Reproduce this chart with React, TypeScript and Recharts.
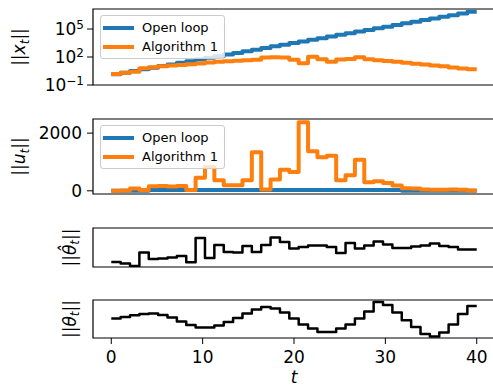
import React from 'react';
import { LineChart, Line, XAxis, YAxis, ReferenceArea, Legend, Label } from 'recharts';

// time stamps (40 samples over 0..40)
const T = [0, 1.026, 2.051, 3.077, 4.103, 5.128, 6.154, 7.179, 8.205, 9.231, 10.256, 11.282, 12.308, 13.333, 14.359, 15.385, 16.41, 17.436, 18.462, 19.487, 20.513, 21.538, 22.564, 23.59, 24.615, 25.641, 26.667, 27.692, 28.718, 29.744, 30.769, 31.795, 32.821, 33.846, 34.872, 35.897, 36.923, 37.949, 38.974, 40];

// ||x_t||
const X_OPEN = [1.41, 1.41, 2.12, 3.18, 4.77, 7.15, 10.7, 16.1, 24.1, 36.2, 54.3, 81.4, 122, 183, 274, 411, 617, 925, 1387, 2080, 3120, 4680, 7020, 10530, 15790, 23680, 35520, 53270, 79900, 119800, 179700, 269500, 404300, 606300, 909400, 1364000, 2046000, 3068000, 4602000, 6903000];
const X_ALG = [1.51, 1.51, 2.0, 2.63, 6.31, 7.94, 10, 12.0, 14.1, 16.6, 20.0, 25.1, 31.6, 35.5, 39.8, 44.7, 50.1, 89.1, 95.5, 89.1, 50.1, 21.4, 107, 56.2, 31.6, 52.5, 60.3, 93.3, 56.2, 45.7, 37.2, 30.2, 24.0, 19.5, 15.8, 12.6, 10.0, 7.4, 6.0, 4.8];

// ||u_t||
const U_OPEN = [0, 0, 0, 0, 0, 30, 30, 30, 30, 30, 30, 30, 30, 30, 30, 30, 30, 30, 30, 30, 30, 30, 30, 30, 30, 30, 30, 30, 30, 30, 30, 30, 0, 0, 0, 0, 0, 0, 0, 0];
const U_ALG = [5, 5, 10, 80, 25, 160, 170, 150, 170, 25, 450, 830, 370, 195, 195, 370, 1335, 45, 390, 735, 655, 2380, 1370, 1160, 1220, 370, 540, 1080, 300, 335, 275, 185, 90, 80, 45, 35, 35, 45, 35, 12];

// ||theta_hat_t|| and ||theta_t|| (axes carry no scale; arbitrary units)
const THETA_HAT = [5.0, 5.0, 3.4, 1.0, 14.4, 8.0, 8.4, 9.4, 11, 4.7, 29, 9, 22, 15, 14.5, 21, 15, 22, 29.5, 25, 18.5, 20, 21.5, 21.5, 20, 14, 24, 18.5, 21.5, 25.5, 22.5, 19, 19, 20.5, 21.5, 23.5, 21, 20, 17.5, 17.5];
const THETA = [19.4, 19.4, 21, 22.7, 24, 24.4, 23, 20.5, 16.5, 13, 10.5, 10.5, 12.5, 16, 20, 24.4, 28.5, 31, 29.5, 25.5, 19.5, 13.4, 9.4, 6, 6, 9.4, 13.4, 19.4, 26.5, 36, 33, 25.4, 17.7, 11, 4, 1.5, 5.5, 13.5, 24, 32];

const X_TICKS = [0, 10, 20, 30, 40];
const LOG_TICKS = [0.1, 100, 100000];
const LOG_TICK_EXP = ['\u22121', '2', '5'];
const U_TICKS = [0, 2000];
const SERIES_NAMES = ['Open loop', 'Algorithm 1'];

const BLUE = '#1f77b4';
const ORANGE = '#ff7f0e';
const FONT = 'DejaVu Sans, sans-serif';

const rows = T.map((t, i) => ({
  t,
  xOpen: X_OPEN[i],
  xAlg: X_ALG[i],
  uOpen: U_OPEN[i],
  uAlg: U_ALG[i],
  thetaHat: THETA_HAT[i],
  theta: THETA[i],
}));

const W = 520;
const PLOT_LEFT = 93;
const MARGIN = { top: 5, right: 25, left: 0, bottom: 14 };
const X_DOMAIN: [number, number] = [-2, 42];

const LogTick = (props: any) => {
  const { x, y, payload } = props;
  const idx = LOG_TICKS.indexOf(payload.value);
  return (
    <text x={x} y={y + 6} textAnchor="end" fontSize={17} fill="#000" fontFamily={FONT}>
      <tspan>10</tspan>
      <tspan fontSize={12} dy={-6}>{LOG_TICK_EXP[idx]}</tspan>
    </text>
  );
};

const makeYLabel = (sym: string, bx: number, hat?: boolean) => (props: any) => {
  const vb = props.viewBox || {};
  const cy = vb.y + vb.height / 2;
  return (
    <text
      x={bx}
      y={cy}
      transform={`rotate(-90, ${bx}, ${cy})`}
      textAnchor="middle"
      fontSize={17}
      fill="#000"
      fontFamily={FONT}
    >
      <tspan>||</tspan>
      <tspan fontStyle="italic">{hat ? sym + '\u0302' : sym}</tspan>
      <tspan fontStyle="italic" fontSize={12} dy={3.5}>t</tspan>
      <tspan dy={-3.5}>||</tspan>
    </text>
  );
};

const LegendBox = () => (
  <div
    style={{
      width: 125,
      height: 44,
      boxSizing: 'border-box',
      border: '1px solid #cccccc',
      borderRadius: 3,
      background: 'rgba(255,255,255,0.8)',
      position: 'relative',
      fontFamily: FONT,
      fontSize: 13,
      color: '#000',
    }}
  >
    {SERIES_NAMES.map((name, i) => (
      <div key={name} style={{ position: 'absolute', left: 0, top: i === 0 ? 3 : 21.5, height: 18, width: 125 }}>
        <div style={{ position: 'absolute', left: 2, top: 7, width: 31, height: 4, background: i === 0 ? BLUE : ORANGE }} />
        <div style={{ position: 'absolute', left: 41, top: 0, lineHeight: '18px', whiteSpace: 'nowrap' }}>{name}</div>
      </div>
    ))}
  </div>
);

const legendWrap = { position: 'absolute' as const, left: 100, top: 11, width: 125, height: 44 };

export default function App() {
  return (
    <div
      style={{
        position: 'absolute',
        left: 0,
        top: 0,
        width: 493,
        height: 387,
        overflow: 'hidden',
        background: '#fff',
        fontFamily: FONT,
      }}
    >
      {/* ||x_t|| */}
      <div style={{ position: 'absolute', left: 0, top: 4 }}>
        <LineChart width={W} height={95} data={rows} margin={MARGIN}>
          <XAxis dataKey="t" type="number" domain={X_DOMAIN} allowDataOverflow hide />
          <YAxis
            type="number"
            scale="log"
            domain={[0.1, 1.4e7]}
            allowDataOverflow
            ticks={LOG_TICKS}
            interval={0}
            width={PLOT_LEFT}
            axisLine={false}
            stroke="#000"
            tickSize={6}
            tickMargin={3}
            tick={LogTick}
          >
            <Label content={makeYLabel('x', 25)} />
          </YAxis>
          <Line type="stepBefore" dataKey="xOpen" name={SERIES_NAMES[0]} stroke={BLUE} strokeWidth={4} dot={false} activeDot={false} isAnimationActive={false} strokeLinejoin="round" />
          <Line type="stepBefore" dataKey="xAlg" name={SERIES_NAMES[1]} stroke={ORANGE} strokeWidth={4} dot={false} activeDot={false} isAnimationActive={false} strokeLinejoin="round" />
          <ReferenceArea x1={X_DOMAIN[0]} x2={X_DOMAIN[1]} y1={0.1} y2={1.4e7} fill="none" stroke="#000" strokeWidth={1.2} />
          <Legend layout="horizontal" verticalAlign="middle" align="center" content={LegendBox} wrapperStyle={legendWrap} />
        </LineChart>
      </div>

      {/* ||u_t|| */}
      <div style={{ position: 'absolute', left: 0, top: 114 }}>
        <LineChart width={W} height={94} data={rows} margin={MARGIN}>
          <XAxis dataKey="t" type="number" domain={X_DOMAIN} allowDataOverflow hide />
          <YAxis
            type="number"
            domain={[-110, 2490]}
            allowDataOverflow
            ticks={U_TICKS}
            interval={0}
            width={PLOT_LEFT}
            axisLine={false}
            stroke="#000"
            tickSize={6}
            tickMargin={5}
            tick={{ fontSize: 17, fill: '#000', fontFamily: FONT }}
          >
            <Label content={makeYLabel('u', 25)} />
          </YAxis>
          <Line type="stepBefore" dataKey="uOpen" name={SERIES_NAMES[0]} stroke={BLUE} strokeWidth={4} dot={false} activeDot={false} isAnimationActive={false} strokeLinejoin="round" />
          <Line type="stepBefore" dataKey="uAlg" name={SERIES_NAMES[1]} stroke={ORANGE} strokeWidth={4} dot={false} activeDot={false} isAnimationActive={false} strokeLinejoin="round" />
          <ReferenceArea x1={X_DOMAIN[0]} x2={X_DOMAIN[1]} y1={-110} y2={2490} fill="none" stroke="#000" strokeWidth={1.2} />
          <Legend layout="horizontal" verticalAlign="middle" align="center" content={LegendBox} wrapperStyle={legendWrap} />
        </LineChart>
      </div>

      {/* ||theta_hat_t|| */}
      <div style={{ position: 'absolute', left: 0, top: 223 }}>
        <LineChart width={W} height={58} data={rows} margin={MARGIN}>
          <XAxis dataKey="t" type="number" domain={X_DOMAIN} allowDataOverflow hide />
          <YAxis type="number" domain={[0, 39]} allowDataOverflow width={PLOT_LEFT} tick={false} axisLine={false} tickLine={false}>
            <Label content={makeYLabel('\u03b8', 75.5, true)} />
          </YAxis>
          <Line type="stepBefore" dataKey="thetaHat" stroke="#000" strokeWidth={2.5} dot={false} activeDot={false} isAnimationActive={false} strokeLinejoin="round" />
          <ReferenceArea x1={X_DOMAIN[0]} x2={X_DOMAIN[1]} y1={0} y2={39} fill="none" stroke="#000" strokeWidth={1.2} />
        </LineChart>
      </div>

      {/* ||theta_t|| */}
      <div style={{ position: 'absolute', left: 0, top: 295 }}>
        <LineChart width={W} height={92} data={rows} margin={{ top: 5, right: 25, left: 0, bottom: 0 }}>
          <XAxis
            dataKey="t"
            type="number"
            domain={X_DOMAIN}
            allowDataOverflow
            ticks={X_TICKS}
            interval={0}
            height={49}
            axisLine={false}
            stroke="#000"
            tickSize={6}
            tickMargin={7}
            tick={{ fontSize: 17, fill: '#000', fontFamily: FONT }}
          >
            <Label
              content={(p: any) => {
                const vb = p.viewBox || {};
                return (
                  <text x={vb.x + vb.width / 2} y={vb.y + 44.5} textAnchor="middle" fontSize={17} fontStyle="italic" fill="#000" fontFamily={FONT}>
                    t
                  </text>
                );
              }}
            />
          </XAxis>
          <YAxis type="number" domain={[0, 38]} allowDataOverflow width={PLOT_LEFT} tick={false} axisLine={false} tickLine={false}>
            <Label content={makeYLabel('\u03b8', 75.5)} />
          </YAxis>
          <Line type="stepBefore" dataKey="theta" stroke="#000" strokeWidth={2.5} dot={false} activeDot={false} isAnimationActive={false} strokeLinejoin="round" />
          <ReferenceArea x1={X_DOMAIN[0]} x2={X_DOMAIN[1]} y1={0} y2={38} fill="none" stroke="#000" strokeWidth={1.2} />
        </LineChart>
      </div>
    </div>
  );
}
